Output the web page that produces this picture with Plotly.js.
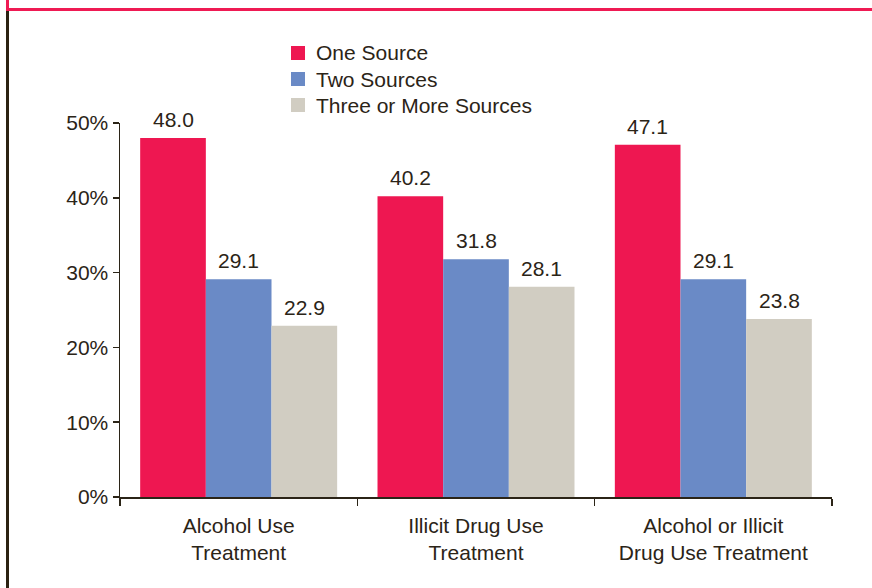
<!DOCTYPE html>
<html>
<head>
<meta charset="utf-8">
<script src="https://cdn.plot.ly/plotly-3.0.1.min.js"></script>
<style>
  html, body { margin: 0; padding: 0; background: #ffffff; }
  #wrap { position: relative; width: 872px; height: 588px; overflow: hidden; }
  #chart { position: absolute; left: 0; top: 0; width: 872px; height: 588px; }
  .rule-top { position: absolute; left: 6px; right: 0; top: 8px; height: 3px; background: #ef1a53; }
  .rule-tick { position: absolute; left: 6px; top: 0; width: 3px; height: 9px; background: #ef1a53; }
  .rule-left { position: absolute; left: 6px; top: 11px; bottom: 0; width: 3px; background: #2b2212; }
</style>
</head>
<body>
<div id="wrap">
  <div id="chart"></div>
  <div class="rule-tick"></div>
  <div class="rule-top"></div>
  <div class="rule-left"></div>
</div>
<script>
// Treatment categories (two-line tick labels)
const categories = [
  "Alcohol Use<br>Treatment",
  "Illicit Drug Use<br>Treatment",
  "Alcohol or Illicit<br>Drug Use Treatment"
];

// Percent of people by number of sources
const seriesNames = ["One Source", "Two Sources", "Three or More Sources"];
const oneSource   = [48.0, 40.2, 47.1];
const twoSources  = [29.1, 31.8, 29.1];
const threePlus   = [22.9, 28.1, 23.8];

const yTickValues = [0, 10, 20, 30, 40, 50];
const yTickLabels = ["0%", "10%", "20%", "30%", "40%", "50%"];

const colors = ["#ee1751", "#6a8ac6", "#d1cdc2"];
const textColor = "#2b2417";
const font = "Liberation Sans, Arial, Helvetica, sans-serif";
const fontSize = 21;

// Plot area in pixels, used to place the hand-built legend
const W = 872, H = 588;
const M = { l: 120, r: 40, t: 123, b: 91 };
const plotW = W - M.l - M.r;
const plotH = H - M.t - M.b;
const px2x = px => (px - M.l) / plotW;
const px2y = py => (H - M.b - py) / plotH;

const seriesValues = [oneSource, twoSources, threePlus];
const bargap = 0.17;
const barWidth = (1 - bargap) / seriesValues.length;

const traces = seriesValues.map((vals, i) => ({
  type: "bar",
  name: seriesNames[i],
  x: categories,
  y: vals,
  marker: { color: colors[i], line: { width: 0 } },
  hoverinfo: "none",
  showlegend: false
}));

// Value labels above each bar
const annotations = [];
seriesValues.forEach((vals, i) => {
  const offset = (i - (seriesValues.length - 1) / 2) * barWidth;
  vals.forEach((v, j) => {
    annotations.push({
      x: j + offset,
      y: v,
      xref: "x",
      yref: "y",
      text: v.toFixed(1),
      showarrow: false,
      yanchor: "bottom",
      yshift: 5,
      font: { family: font, size: fontSize, color: textColor }
    });
  });
});

// Legend: colour squares with labels, stacked top-left of the plot
const shapes = [];
const legendLeft = 291, legendTop = 53, legendStep = 26, swatch = 14;
seriesNames.forEach((name, i) => {
  const cy = legendTop + i * legendStep;
  shapes.push({
    type: "rect",
    xref: "paper", yref: "paper",
    x0: px2x(legendLeft), x1: px2x(legendLeft + swatch),
    y0: px2y(cy + swatch / 2), y1: px2y(cy - swatch / 2),
    fillcolor: colors[i],
    line: { width: 0 }
  });
  annotations.push({
    xref: "paper", yref: "paper",
    x: px2x(legendLeft + swatch + 9),
    y: px2y(cy),
    xanchor: "left",
    yanchor: "middle",
    text: name,
    showarrow: false,
    font: { family: font, size: fontSize, color: textColor }
  });
});

const layout = {
  width: W,
  height: H,
  margin: M,
  paper_bgcolor: "rgba(0,0,0,0)",
  plot_bgcolor: "rgba(0,0,0,0)",
  barmode: "group",
  bargap: bargap,
  bargroupgap: 0,
  font: { family: font, size: fontSize, color: textColor },
  showlegend: false,
  xaxis: {
    type: "category",
    showline: true,
    linecolor: textColor,
    linewidth: 1.5,
    ticks: "outside",
    tickson: "boundaries",
    ticklen: 7,
    tickwidth: 1.5,
    tickcolor: textColor,
    ticklabelstandoff: 9,
    showgrid: false,
    zeroline: false,
    tickfont: { family: font, size: fontSize, color: textColor },
    fixedrange: true
  },
  yaxis: {
    range: [0, 50],
    tickvals: yTickValues,
    ticktext: yTickLabels,
    showline: true,
    linecolor: textColor,
    linewidth: 1.5,
    ticks: "outside",
    ticklen: 6,
    tickwidth: 1.5,
    tickcolor: textColor,
    showgrid: false,
    zeroline: false,
    tickfont: { family: font, size: fontSize, color: textColor },
    fixedrange: true
  },
  shapes: shapes,
  annotations: annotations
};

Plotly.newPlot("chart", traces, layout, { displayModeBar: false, staticPlot: true });
</script>
</body>
</html>
